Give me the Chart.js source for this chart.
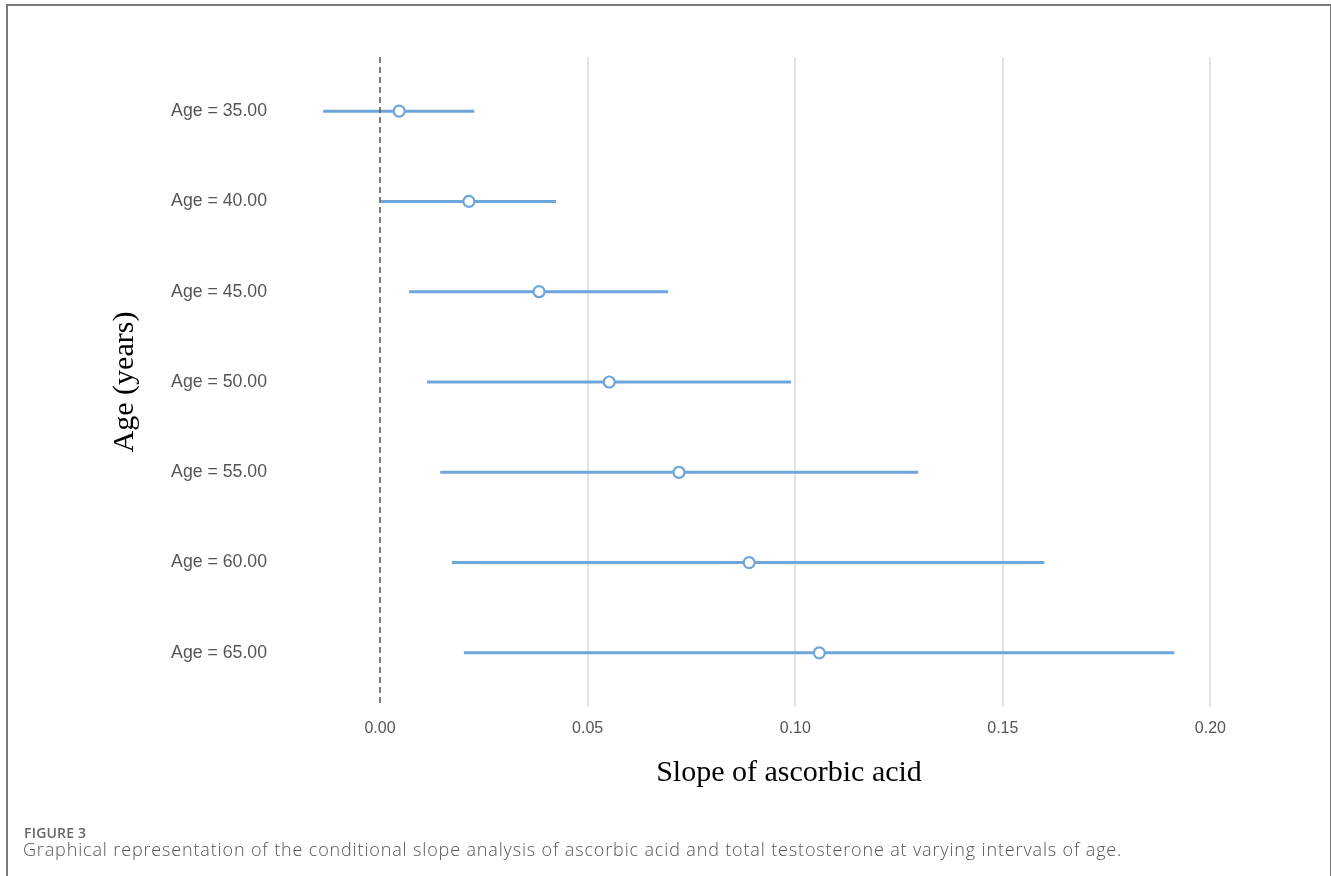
<!DOCTYPE html>
<html>
<head>
<meta charset="utf-8">
<script src="https://cdn.jsdelivr.net/npm/chart.js@4"></script>
<style>
  html, body { margin: 0; padding: 0; background: #fff; width: 1331px; height: 876px; overflow: hidden; }
  #wrap { position: absolute; left: 0; top: 0; width: 1331px; height: 876px; }
  #frame { position: absolute; left: 6px; top: 4px; width: 1322px; height: 900px;
           border: 2px solid #7a7a7a; border-bottom: none; }
  canvas { position: absolute; left: 0; top: 0; }
  #figlabel { position: absolute; left: 24px; top: 823px; font-family: "Open Sans", sans-serif;
              font-weight: 600; font-size: 14px; color: #666; letter-spacing: 0.2px; }
  #caption { position: absolute; left: 23px; top: 837px; font-family: "Open Sans", sans-serif;
             font-weight: 300; font-size: 18px; letter-spacing: 0.85px; color: #555; white-space: nowrap; }
</style>
</head>
<body>
<div id="wrap">
  <div id="frame"></div>
  <canvas id="c" width="1331" height="876"></canvas>
  <div id="figlabel">FIGURE 3</div>
  <div id="caption">Graphical representation of the conditional slope analysis of ascorbic acid and total testosterone at varying intervals of age.</div>
</div>
<script>
const ageLabels = ["Age = 35.00", "Age = 40.00", "Age = 45.00", "Age = 50.00", "Age = 55.00", "Age = 60.00", "Age = 65.00"];
const slopeEstimate = [0.0046, 0.0214, 0.0383, 0.0552, 0.0720, 0.0889, 0.1058];
const lowerCI = [-0.0137, 0.0002, 0.0070, 0.0113, 0.0145, 0.0173, 0.0202];
const upperCI = [0.0227, 0.0424, 0.0694, 0.0990, 0.1296, 0.1600, 0.1913];
const xTicks = [0.00, 0.05, 0.10, 0.15, 0.20];

const BLUE = '#6ea6dc';

const datasets = [];
datasets.push({
  label: 'estimate',
  data: slopeEstimate.map((v, i) => ({ x: v, y: i })),
  showLine: false,
  pointRadius: 5.5,
  pointHoverRadius: 5.5,
  pointBackgroundColor: '#ffffff',
  pointBorderColor: BLUE,
  pointBorderWidth: 2.2
});
datasets.push({
  label: 'zero',
  data: [{ x: 0, y: -0.6 }, { x: 0, y: ageLabels.length - 1 + 0.6 }],
  showLine: true,
  borderColor: '#555555',
  borderWidth: 1.5,
  borderDash: [6, 4],
  pointRadius: 0
});
ageLabels.forEach((lab, i) => {
  datasets.push({
    label: lab,
    data: [{ x: lowerCI[i], y: i }, { x: upperCI[i], y: i }],
    showLine: true,
    borderColor: BLUE,
    borderWidth: 3,
    pointRadius: 0
  });
});

new Chart(document.getElementById('c'), {
  type: 'scatter',
  data: { datasets },
  options: {
    responsive: false,
    animation: false,
    devicePixelRatio: 1,
    layout: { padding: { top: 57, right: 50, bottom: 69, left: 0 } },
    plugins: { legend: { display: false }, tooltip: { enabled: false } },
    scales: {
      x: {
        type: 'linear',
        min: -0.02,
        max: 0.217,
        afterBuildTicks: (s) => { s.ticks = xTicks.map(v => ({ value: v })); },
        afterFit: (s) => { s.height = 100; },
        grid: {
          drawTicks: false,
          lineWidth: 2,
          color: (ctx) => (ctx.tick && ctx.tick.value === 0) ? 'rgba(0,0,0,0)' : '#e4e4e4'
        },
        border: { display: false },
        ticks: {
          padding: 12,
          color: '#555',
          font: { family: 'Liberation Sans, Arial, sans-serif', size: 16 },
          callback: (v) => Number(v).toFixed(2)
        },
        title: {
          display: true,
          text: 'Slope of ascorbic acid',
          color: '#000',
          font: { family: 'Liberation Serif, Times New Roman, serif', size: 30 },
          padding: { top: 0, bottom: 16 }
        }
      },
      y: {
        type: 'linear',
        reverse: true,
        min: -0.6,
        max: ageLabels.length - 1 + 0.6,
        afterBuildTicks: (s) => { s.ticks = ageLabels.map((l, i) => ({ value: i })); },
        afterFit: (s) => { s.width = 297; },
        grid: { display: false, drawTicks: false },
        border: { display: false },
        ticks: {
          padding: 30,
          color: '#555',
          font: { family: 'Liberation Sans, Arial, sans-serif', size: 17.7 },
          callback: (v) => ageLabels[v]
        },
        title: {
          display: true,
          text: 'Age (years)',
          color: '#000',
          font: { family: 'Liberation Serif, Times New Roman, serif', size: 30 },
          padding: { top: 107, bottom: 0 }
        }
      }
    }
  }
});
</script>
</body>
</html>
